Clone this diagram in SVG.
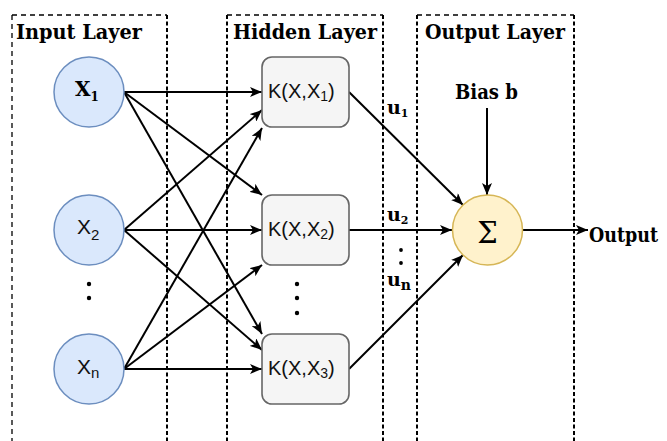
<svg xmlns="http://www.w3.org/2000/svg" width="667" height="441" viewBox="0 0 667 441">
<defs>
<style>
.lay{fill:none;stroke:#000;stroke-width:2;stroke-dasharray:4 2.5}
.layl{fill:none;stroke:#000;stroke-width:1.3;stroke-dasharray:5 4}
.inp{fill:#dae8fc;stroke:#6c8ebf;stroke-width:1.5}
.hid{fill:#f5f5f5;stroke:#666;stroke-width:1.6}
.sum{fill:#fff2cc;stroke:#d6b656;stroke-width:1.5}
.ser{font-family:"DejaVu Serif","Liberation Serif",serif;font-weight:bold;fill:#000}
.san{font-family:"Liberation Sans",Arial,sans-serif;fill:#111}
.edge{fill:none;stroke:#000;stroke-width:2;marker-end:url(#ah)}
</style>
<marker id="ah" markerUnits="userSpaceOnUse" markerWidth="13" markerHeight="10" refX="12" refY="5" orient="auto" viewBox="0 0 13 10">
<path d="M0,0 L12,5 L0,10 L3,5 z" fill="#000"/>
</marker>
</defs>
<rect width="667" height="441" fill="#fff"/>

<g id="layers">
<g id="input-layer">
<line class="layl" x1="12" y1="15" x2="12" y2="441"/>
<line class="layl" x1="12" y1="15" x2="167" y2="15"/>
<line class="lay" x1="167" y1="15" x2="167" y2="441"/>
<text class="ser" x="16" y="39" font-size="19.5" textLength="126" lengthAdjust="spacingAndGlyphs">Input Layer</text>
</g>
<g id="hidden-layer">
<line class="lay" x1="227" y1="15" x2="227" y2="441"/>
<line class="layl" x1="227" y1="15" x2="383" y2="15"/>
<line class="lay" x1="383" y1="15" x2="383" y2="441"/>
<text class="ser" x="233" y="39" font-size="19.5" textLength="144" lengthAdjust="spacingAndGlyphs">Hidden Layer</text>
</g>
<g id="output-layer">
<line class="lay" x1="417" y1="15" x2="417" y2="441"/>
<line class="layl" x1="417" y1="15" x2="574" y2="15"/>
<line class="lay" x1="574" y1="15" x2="574" y2="441"/>
<text class="ser" x="425" y="39" font-size="19.5" textLength="140" lengthAdjust="spacingAndGlyphs">Output Layer</text>
</g>
</g>

<g id="connectors">
<line class="edge" x1="124" y1="92" x2="262" y2="92"/>
<line class="edge" x1="124" y1="92" x2="262" y2="195"/>
<line class="edge" x1="124" y1="92" x2="262" y2="334"/>
<line class="edge" x1="124" y1="230" x2="262" y2="110"/>
<line class="edge" x1="124" y1="230" x2="262" y2="230"/>
<line class="edge" x1="124" y1="230" x2="262" y2="350"/>
<line class="edge" x1="124" y1="369" x2="262" y2="128"/>
<line class="edge" x1="124" y1="369" x2="262" y2="265"/>
<line class="edge" x1="124" y1="369" x2="262" y2="369"/>
<line class="edge" x1="349" y1="92" x2="463" y2="205"/>
<line class="edge" x1="349" y1="230" x2="452" y2="230"/>
<line class="edge" x1="349" y1="369" x2="463" y2="255"/>
<line class="edge" x1="487" y1="108" x2="487" y2="195"/>
<line class="edge" x1="523" y1="230" x2="588" y2="230"/>
</g>

<g id="x1">
<circle class="inp" cx="89" cy="92" r="35"/>
<text class="ser" x="75" y="96" font-size="20">X<tspan font-size="12" dy="5">1</tspan></text>
</g>
<g id="x2">
<circle class="inp" cx="89" cy="230" r="35"/>
<text class="san" x="77" y="234" font-size="21">X<tspan font-size="15" dy="6">2</tspan></text>
</g>
<g id="input-dots">
<circle cx="89" cy="284" r="2.2"/>
<circle cx="89" cy="298" r="2.2"/>
</g>
<g id="xn">
<circle class="inp" cx="89" cy="369" r="35"/>
<text class="san" x="77" y="374" font-size="21">X<tspan font-size="15" dy="4">n</tspan></text>
</g>

<g id="k1">
<rect class="hid" x="262" y="57" width="87" height="70" rx="10"/>
<text class="san" x="268" y="98" font-size="20">K(X,X<tspan font-size="14" dy="3">1</tspan><tspan dy="-3">)</tspan></text>
</g>
<g id="k2">
<rect class="hid" x="262" y="195" width="87" height="70" rx="10"/>
<text class="san" x="268" y="236" font-size="20">K(X,X<tspan font-size="14" dy="3">2</tspan><tspan dy="-3">)</tspan></text>
</g>
<g id="hidden-dots">
<circle cx="297" cy="284" r="2.2"/>
<circle cx="297" cy="298" r="2.2"/>
<circle cx="297" cy="313" r="2.2"/>
</g>
<g id="k3">
<rect class="hid" x="262" y="334" width="87" height="70" rx="10"/>
<text class="san" x="268" y="375" font-size="20">K(X,X<tspan font-size="14" dy="3">3</tspan><tspan dy="-3">)</tspan></text>
</g>

<g id="weights">
<text class="ser" x="387" y="114" font-size="19">u<tspan font-size="11" dy="3">1</tspan></text>
<text class="ser" x="387" y="221" font-size="19">u<tspan font-size="11" dy="3">2</tspan></text>
<circle cx="401" cy="250" r="1.9"/>
<circle cx="401" cy="263" r="1.9"/>
<text class="ser" x="387" y="286" font-size="19">u<tspan font-size="14" dy="4">n</tspan></text>
</g>

<g id="bias">
<text class="ser" x="455" y="99" font-size="19.5" textLength="63" lengthAdjust="spacingAndGlyphs">Bias b</text>
</g>

<g id="sum">
<circle class="sum" cx="487.5" cy="230" r="35"/>
<text x="487.5" y="243" font-size="29" text-anchor="middle" font-family="'DejaVu Serif','Liberation Serif',serif" fill="#000">Σ</text>
</g>

<g id="output">
<text class="ser" x="589" y="242" font-size="20" textLength="69" lengthAdjust="spacingAndGlyphs">Output</text>
</g>
</svg>
